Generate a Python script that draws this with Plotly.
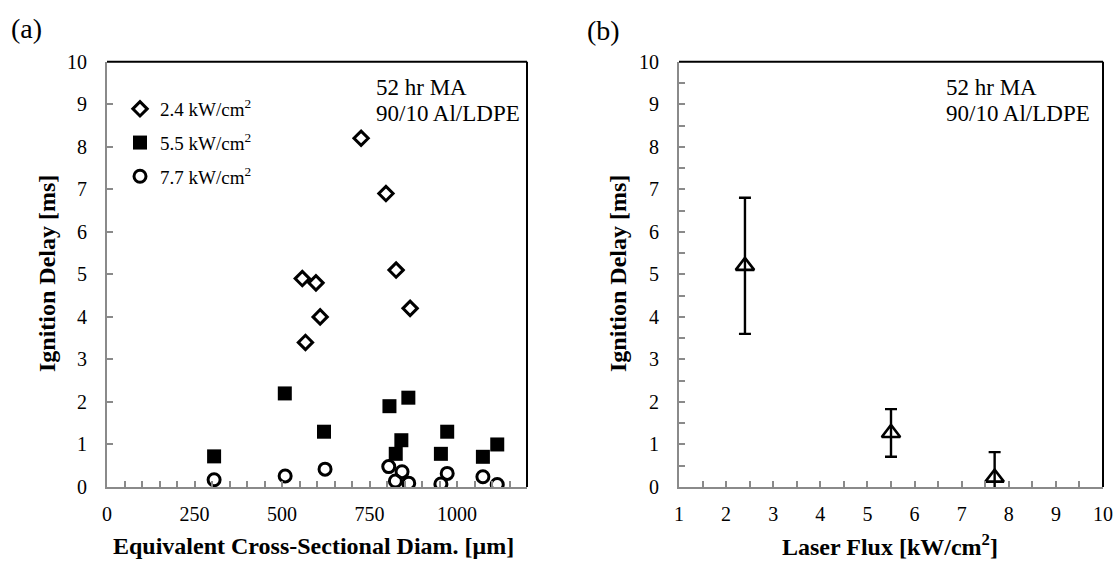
import plotly.graph_objects as go

# Panel (a): ignition delay vs. equivalent cross-sectional diameter
diam_24 = [726, 797, 826, 866, 558, 597, 609, 567]
delay_24 = [8.2, 6.9, 5.1, 4.2, 4.9, 4.8, 4.0, 3.4]

diam_55 = [306, 508, 620, 807, 861, 825, 841, 954, 972, 1074, 1115]
delay_55 = [0.72, 2.2, 1.3, 1.9, 2.1, 0.78, 1.1, 0.78, 1.3, 0.71, 1.0]

diam_77 = [306, 509, 623, 805, 843, 824, 862, 954, 972, 1074, 1115]
delay_77 = [0.17, 0.26, 0.42, 0.48, 0.36, 0.14, 0.09, 0.07, 0.32, 0.24, 0.06]

# Panel (b): mean ignition delay vs. laser flux with error bars
flux = [2.4, 5.5, 7.7]
mean_delay = [5.2, 1.27, 0.22]
err_plus = [1.6, 0.56, 0.6]
err_minus = [1.6, 0.56, 0.6]

legend_names = ["2.4 kW/cm<sup>2</sup>", "5.5 kW/cm<sup>2</sup>", "7.7 kW/cm<sup>2</sup>"]

SERIF = "Liberation Serif"
GRAY = "#8a8a8a"

fig = go.Figure()

fig.add_trace(go.Scatter(
    x=diam_24, y=delay_24, mode="markers", name=legend_names[0], legendgroup="a",
    marker=dict(symbol="diamond-open", size=11, color="black", line=dict(width=3)),
    xaxis="x", yaxis="y"))
fig.add_trace(go.Scatter(
    x=diam_55, y=delay_55, mode="markers", name=legend_names[1], legendgroup="b",
    marker=dict(symbol="square", size=14, color="black", line=dict(width=0)),
    xaxis="x", yaxis="y"))
fig.add_trace(go.Scatter(
    x=diam_77, y=delay_77, mode="markers", name=legend_names[2], legendgroup="c",
    marker=dict(symbol="circle-open", size=12, color="black", line=dict(width=3)),
    xaxis="x", yaxis="y"))

fig.add_trace(go.Scatter(
    x=flux, y=mean_delay, mode="markers", showlegend=False,
    marker=dict(symbol="triangle-up-open", size=16, color="black", line=dict(width=2.6)),
    error_y=dict(type="data", array=err_plus, arrayminus=err_minus,
                 color="black", thickness=2.4, width=6),
    xaxis="x2", yaxis="y2"))

W, H = 1117, 563
ydom = [1 - 487 / H, 1 - 61.7 / H]

axis_common = dict(
    showline=True, linecolor=GRAY, linewidth=2, mirror=False,
    showgrid=False, zeroline=False, ticks="inside", ticklen=6,
    tickcolor=GRAY, tickwidth=1.5, automargin=False,
    tickfont=dict(family=SERIF, size=20, color="black"),
)

fig.update_layout(
    width=W, height=H,
    margin=dict(l=0, r=0, t=0, b=0),
    paper_bgcolor="white", plot_bgcolor="white",
    showlegend=True,
    legend=dict(x=120 / W, y=1 - 90 / H, xanchor="left", yanchor="top",
                bgcolor="rgba(0,0,0,0)", traceorder="grouped", tracegroupgap=6,
                font=dict(family=SERIF, size=19, color="black"),
                itemwidth=30),
    xaxis=dict(domain=[107 / W, 527 / W], range=[0, 1200], dtick=250,
               minor=dict(dtick=50, ticks="inside", ticklen=6, tickcolor=GRAY),
               ticklabelstandoff=8, anchor="y", **axis_common),
    yaxis=dict(domain=ydom, range=[0, 10], dtick=1,
               ticklabelstandoff=14, anchor="x", **axis_common),
    xaxis2=dict(domain=[679 / W, 1103 / W], range=[1, 10], dtick=1,
                minor=dict(dtick=0.5, ticks="inside", ticklen=6, tickcolor=GRAY),
                ticklabelstandoff=8, anchor="y2", **axis_common),
    yaxis2=dict(domain=ydom, range=[0, 10], dtick=1,
                minor=dict(dtick=0.5, ticks="inside", ticklen=6, tickcolor=GRAY),
                ticklabelstandoff=14, anchor="x2", **axis_common),
)

# black top and right frame edges of each panel
for xd in ([107 / W, 527 / W], [679 / W, 1103 / W]):
    fig.add_shape(type="line", xref="paper", yref="paper", x0=xd[0], x1=xd[1],
                  y0=ydom[1], y1=ydom[1], line=dict(color="black", width=2))
    fig.add_shape(type="line", xref="paper", yref="paper", x0=xd[1], x1=xd[1],
                  y0=ydom[0], y1=ydom[1], line=dict(color="black", width=2))

def note(text, x, y, size, bold=False, angle=0, xanchor="center"):
    if bold:
        text = "<b>" + text + "</b>"
    fig.add_annotation(text=text, x=x / W, y=1 - y / H, xref="paper", yref="paper",
                       showarrow=False, textangle=angle, xanchor=xanchor, yanchor="middle",
                       font=dict(family=SERIF, size=size, color="black"))

note("(a)", 26, 29, 28)
note("(b)", 603, 30, 28)

note("Ignition Delay [ms]", 47, 274, 24, bold=True, angle=-90)
note("Ignition Delay [ms]", 618, 274, 24, bold=True, angle=-90)
note("Equivalent Cross-Sectional Diam. [μm]", 313, 546, 24, bold=True)
note("Laser Flux [kW/cm<sup>2</sup>]", 890, 545, 24, bold=True)

for x0 in (374, 944):
    note("52 hr MA", x0, 88, 23, xanchor="left")
    note("90/10 Al/LDPE", x0, 114, 23, xanchor="left")

fig.write_html("out.html")
